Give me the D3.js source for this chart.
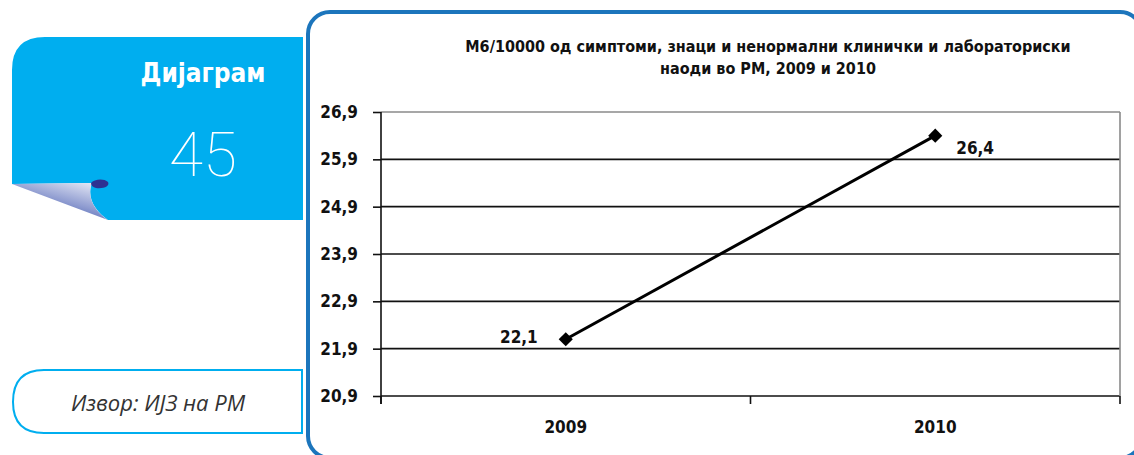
<!DOCTYPE html>
<html>
<head>
<meta charset="utf-8">
<script src="https://cdn.jsdelivr.net/npm/d3@7"></script>
<style>
  body { margin: 0; background: #fff; }
  svg { display: block; }
</style>
</head>
<body>
<svg id="chart" width="1134" height="455"></svg>
<script>
// chart data
var years = ["2009", "2010"];
var values = [22.1, 26.4];
var yTicks = [20.9, 21.9, 22.9, 23.9, 24.9, 25.9, 26.9];
var titleLines = ["М6/10000 од симптоми,  знаци и ненормални клинички и лабораториски",
                  "наоди во РМ, 2009 и 2010"];
var tabWord = "Дијаграм";
var tabNumber = "45";
var sourceText = "Извор: ИЈЗ на РМ";

var svg = d3.select("#chart");
var lightBlue = "#00aeef",
    darkBlue = "#1c75bc";

// comma as decimal mark
var mk = d3.formatLocale({decimal: ",", thousands: ".", grouping: [3], currency: ["", ""]});
var fmt = mk.format(".1f");

var axisFont = "'DejaVu Sans Condensed', 'Liberation Sans Narrow', 'Open Sans', sans-serif";

// ---- left tab with page curl
var defs = svg.append("defs");
var grad = defs.append("linearGradient")
    .attr("id", "curl")
    .attr("x1", "1").attr("y1", "0")
    .attr("x2", "0.3").attr("y2", "1");
grad.append("stop").attr("offset", "0").attr("stop-color", "#f2f4fb");
grad.append("stop").attr("offset", "0.55").attr("stop-color", "#8e9bd0");
grad.append("stop").attr("offset", "1").attr("stop-color", "#2f4aa6");

svg.append("path")
    .attr("d", "M12,184 L12,70 Q12,37 45,37 L303,37 L303,220 L108,220 C96,212 86,198 92,183 Z")
    .attr("fill", lightBlue);

svg.append("path")
    .attr("d", "M12,184 L92,183 C86,198 96,212 108,220 Z")
    .attr("fill", "url(#curl)");

svg.append("path")
    .attr("d", "M91,183 C94,179 104,178 108,182 C110,186 104,189 96,188 C93,187 91,186 91,183 Z")
    .attr("fill", "#2e3192");

svg.append("text")
    .attr("x", 203).attr("y", 82)
    .attr("text-anchor", "middle")
    .attr("fill", "#fff")
    .style("font-family", axisFont)
    .style("font-weight", "bold")
    .style("font-size", "26px")
    .text(tabWord);

svg.append("text")
    .attr("x", 203).attr("y", 176)
    .attr("text-anchor", "middle")
    .attr("fill", "#fff")
    .style("font-family", "Roboto, 'Open Sans', sans-serif")
    .style("font-weight", 100)
    .style("font-size", "62px")
    .text(tabNumber);

// ---- source box (rounded on the left only)
svg.append("path")
    .attr("d", "M302,370 L302,433 L44,433 Q13,433 13,402 Q13,370 44,370 Z")
    .attr("fill", "#fff")
    .attr("stroke", lightBlue)
    .attr("stroke-width", 2);

svg.append("text")
    .attr("x", 158).attr("y", 411)
    .attr("text-anchor", "middle")
    .attr("fill", "#333")
    .style("font-family", "'Open Sans', 'Noto Sans', sans-serif")
    .style("font-style", "italic")
    .style("font-size", "22px")
    .text(sourceText);

// ---- chart frame (bottom edge just below the picture)
svg.append("rect")
    .attr("x", 308).attr("y", 12)
    .attr("width", 834).attr("height", 446)
    .attr("rx", 22)
    .attr("fill", "#fff")
    .attr("stroke", darkBlue)
    .attr("stroke-width", 4);

// ---- title
var title = svg.append("text")
    .attr("text-anchor", "middle")
    .style("font-family", axisFont)
    .style("font-weight", "bold")
    .style("font-size", "16px")
    .attr("fill", "#111");
titleLines.forEach(function(t, i) {
    title.append("tspan").attr("x", 768).attr("y", 52 + i * 22).text(t);
});

// ---- plot
var plotLeft = 381, plotRight = 1120, plotTop = 112, plotBottom = 396;

var x = d3.scaleBand().domain(years).range([plotLeft, plotRight]);
var y = d3.scaleLinear().domain([20.9, 26.9]).range([plotBottom, plotTop]);

// horizontal grid
svg.append("g").selectAll("line")
    .data(yTicks)
    .join("line")
    .attr("x1", plotLeft).attr("x2", plotRight)
    .attr("y1", function(d) { return y(d); })
    .attr("y2", function(d) { return y(d); })
    .attr("stroke", function(d) { return d === 26.9 ? "#8a8a8a" : "#111"; })
    .attr("stroke-width", 1.6);

// right border of plot area
svg.append("line")
    .attr("x1", plotRight).attr("x2", plotRight)
    .attr("y1", plotTop).attr("y2", plotBottom)
    .attr("stroke", "#8a8a8a").attr("stroke-width", 1.6);

// y axis
var yAxis = svg.append("g")
    .attr("transform", "translate(" + plotLeft + ",0)")
    .call(d3.axisLeft(y).tickValues(yTicks).tickFormat(fmt).tickSize(8).tickPadding(15));
yAxis.select(".domain").remove();
yAxis.selectAll(".tick line").attr("stroke", "#111").attr("stroke-width", 1.6);
yAxis.selectAll("text")
    .attr("fill", "#111")
    .style("font-family", axisFont)
    .style("font-weight", "bold")
    .style("font-size", "17px");

svg.append("line")
    .attr("x1", plotLeft).attr("x2", plotLeft)
    .attr("y1", plotTop).attr("y2", plotBottom + 8)
    .attr("stroke", "#111").attr("stroke-width", 1.6);

// x axis: ticks at band edges
var edges = [plotLeft].concat(years.map(function(d) { return x(d) + x.bandwidth(); }));
svg.append("g").selectAll("line")
    .data(edges)
    .join("line")
    .attr("x1", function(d) { return d; }).attr("x2", function(d) { return d; })
    .attr("y1", plotBottom).attr("y2", plotBottom + 8)
    .attr("stroke", "#111").attr("stroke-width", 1.6);

svg.append("g").selectAll("text")
    .data(years)
    .join("text")
    .attr("x", function(d) { return x(d) + x.bandwidth() / 2; })
    .attr("y", 433)
    .attr("text-anchor", "middle")
    .attr("fill", "#111")
    .style("font-family", axisFont)
    .style("font-weight", "bold")
    .style("font-size", "17px")
    .text(function(d) { return d; });

// line + markers
var pts = years.map(function(d, i) { return [x(d) + x.bandwidth() / 2, y(values[i])]; });

svg.append("path")
    .attr("d", d3.line()(pts))
    .attr("fill", "none")
    .attr("stroke", "#000")
    .attr("stroke-width", 3);

svg.append("g").selectAll("path")
    .data(pts)
    .join("path")
    .attr("d", d3.symbol(d3.symbolSquare, 100))
    .attr("transform", function(d) { return "translate(" + d[0] + "," + d[1] + ") rotate(45)"; })
    .attr("fill", "#000");

// data labels
svg.append("g").selectAll("text")
    .data(values)
    .join("text")
    .attr("x", function(d, i) { return i === 0 ? pts[i][0] - 28 : pts[i][0] + 21; })
    .attr("y", function(d, i) { return i === 0 ? pts[i][1] + 4 : pts[i][1] + 18; })
    .attr("text-anchor", function(d, i) { return i === 0 ? "end" : "start"; })
    .attr("fill", "#111")
    .style("font-family", axisFont)
    .style("font-weight", "bold")
    .style("font-size", "17px")
    .text(function(d) { return fmt(d); });
</script>
</body>
</html>
